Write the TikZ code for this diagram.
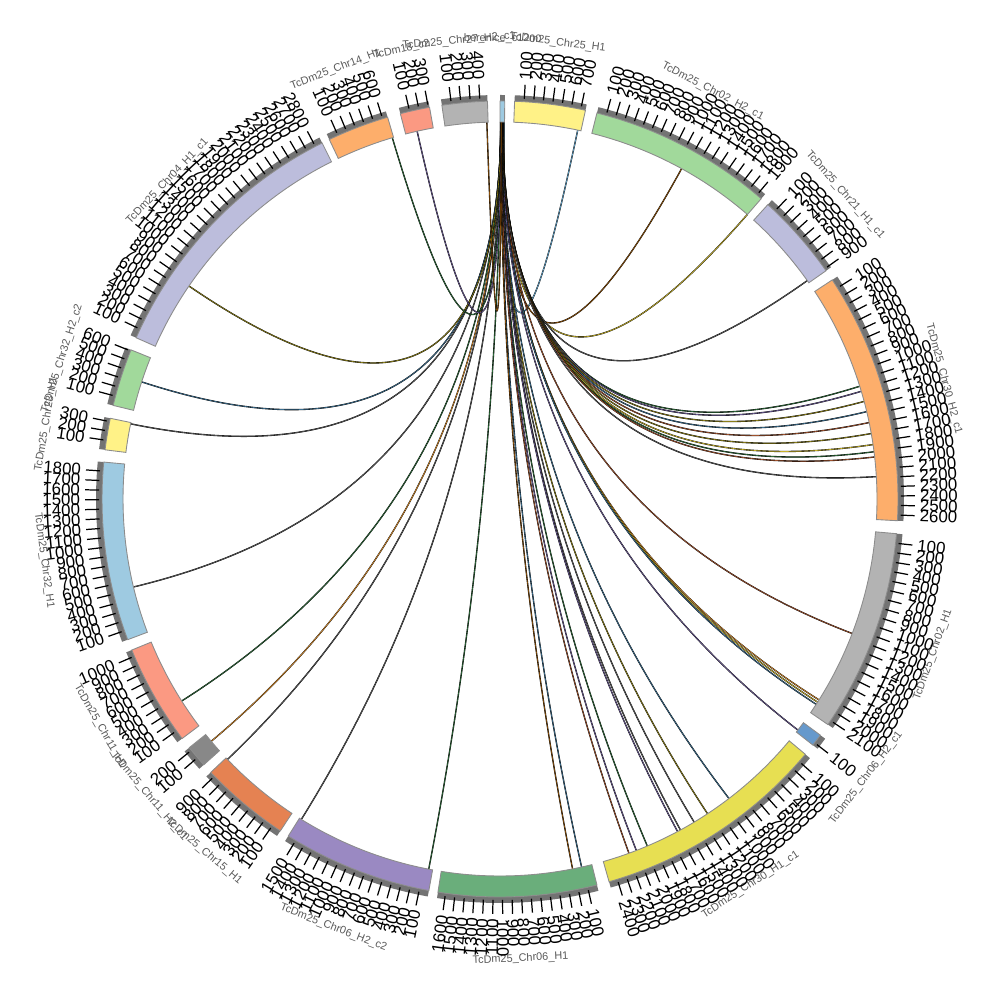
\documentclass[tikz,border=0pt]{standalone}
\usepackage{fontspec}
\setmainfont{Liberation Sans}
\usetikzlibrary{calc}
\definecolor{tinyblue}{HTML}{9ECAE1}
\definecolor{pyel}{HTML}{FFF287}
\definecolor{pgrn}{HTML}{A1D99B}
\definecolor{plav}{HTML}{BCBDDC}
\definecolor{porg}{HTML}{FDAE6B}
\definecolor{pgry}{HTML}{B3B3B3}
\definecolor{sblu}{HTML}{6699CC}
\definecolor{ochre}{HTML}{E7DF52}
\definecolor{dgrn}{HTML}{6AAE7B}
\definecolor{dprp}{HTML}{9A89C2}
\definecolor{dorg}{HTML}{E58252}
\definecolor{mgry}{HTML}{888888}
\definecolor{psal}{HTML}{FB9982}
\definecolor{trackgray}{HTML}{737373}
\definecolor{lsky}{HTML}{6BAED6}
\definecolor{lbrown}{HTML}{8C510A}
\definecolor{lyellow}{HTML}{C9B32A}
\definecolor{lgray}{HTML}{5B5B5B}
\definecolor{lgreen}{HTML}{2D6A3A}
\definecolor{lpurple}{HTML}{6B5B95}
\definecolor{lolive}{HTML}{8C801A}
\definecolor{lblue}{HTML}{3B6E8F}
\definecolor{lred}{HTML}{A0522D}
\definecolor{lorange}{HTML}{D98C2B}

\begin{document}
\begin{tikzpicture}[
  sector/.style={draw=gray!90, line width=0.25pt},
  track/.style={fill=trackgray},
  tickmark/.style={black, line width=0.35pt},
  ticklabel/.style={inner sep=0.4pt, font=\fontsize{4.8}{5}\selectfont},
  namelabel/.style={inner sep=0pt, text=black!65, font=\fontsize{3.1}{3.5}\selectfont},
  chordlink/.style={draw=black, line width=0.1pt, double distance=0.18pt}]
\useasboundingbox (-5,-5.01) rectangle (5,4.99);
\coordinate (O) at (0,0);

% links from the small sector at the top
\foreach \a/\b/\c [count=\j] in {
  0.62/11.9/lsky, 0.56/28.8/lbrown, 0.52/41.0/lyellow, 0.48/54.6/lgray,
  0.44/72.6/lgreen, 0.42/73.4/lpurple, 0.40/75.0/lolive, 0.38/76.6/lblue,
  0.36/78.3/lred, 0.34/80.0/lolive, 0.32/81.7/lyellow, 0.30/82.8/lgreen,
  0.28/83.6/lred, 0.26/86.6/lgray, 0.25/110.9/lred, 0.24/122.2/lorange,
  0.23/122.6/lyellow, 0.22/123.0/lblue, 0.21/127.8/lpurple, 0.20/142.6/lblue,
  0.19/146.6/lolive, 0.18/149.0/lgray, 0.17/151.4/lgray, 0.16/151.9/lpurple,
  0.15/157.0/lgreen, 0.14/158.8/lpurple, 0.13/160.0/lred, 0.12/167.5/lblue,
  0.11/168.9/lbrown, 0.10/190.9/lgreen, 0.10/211.8/lgray, 0.11/226.3/lgray,
  0.12/230.0/lorange, 0.13/237.6/lgreen, 0.14/256.5/lgray, 0.15/281.5/lgray,
  0.16/288.1/lblue, 0.17/304.4/lolive, 0.18/343.4/lgreen, 0.19/347.3/lpurple,
  0.20/358.0/lbrown}{
  \coordinate (ls\j) at ({90-\a}:3.77);
  \coordinate (lt\j) at ({90-\b}:3.77);
  \draw[chordlink, double=\c] (ls\j) .. controls ($(ls\j)!0.667!(O)$) and ($(lt\j)!0.667!(O)$) .. (lt\j);
}

% sectors: start (deg clockwise from top) / length / colour / name
\foreach \s/\l/\c/\n [count=\i] in {
  0.0/50/tinyblue/{berenice\_c1200},
  2.1/750/pyel/{TcDm25\_Chr25\_H1},
  14.1/1960/pgrn/{TcDm25\_Chr02\_H2\_c1},
  42.3/925/plav/{TcDm25\_Chr21\_H1\_c1},
  56.6/2660/porg/{TcDm25\_Chr30\_H2\_c1},
  95.0/2150/pgry/{TcDm25\_Chr02\_H1},
  126.4/130/sblu/{TcDm25\_Chr06\_H2\_c1},
  129.9/2490/ochre/{TcDm25\_Chr30\_H1\_c1},
  165.9/1680/dgrn/{TcDm25\_Chr06\_H1},
  190.3/1590/dprp/{TcDm25\_Chr06\_H2\_c2},
  213.5/955/dorg/{TcDm25\_Chr15\_H1},
  228.1/235/mgry/{TcDm25\_Chr11\_H2\_c1},
  233.0/1070/psal/{TcDm25\_Chr11\_H1},
  249.3/1895/tinyblue/{TcDm25\_Chr32\_H1},
  277.1/335/pyel/{TcDm25\_Chr23\_H1},
  283.6/612/pgrn/{TcDm25\_Chr32\_H2\_c2},
  293.9/2880/plav/{TcDm25\_Chr04\_H1\_c1},
  334.6/655/porg/{TcDm25\_Chr14\_H1},
  345.5/313/psal/{TcDm18\_c2},
  351.6/480/pgry/{TcDm25\_Chr27\_H2\_c1}}{
  \pgfmathsetmacro\e{\s+\l*0.01373}
  \pgfmathsetmacro\ta{90-\s}
  \pgfmathsetmacro\tb{90-\e}
  \fill[track] (\ta:3.98) arc[start angle=\ta, end angle=\tb, radius=3.98] -- (\tb:4.04) arc[start angle=\tb, end angle=\ta, radius=4.04] -- cycle;
  \filldraw[sector, fill=\c] (\ta:3.77) arc[start angle=\ta, end angle=\tb, radius=3.77] -- (\tb:3.98) arc[start angle=\tb, end angle=\ta, radius=3.98] -- cycle;
  % sector name
  \pgfmathsetmacro\m{(\s+\e)/2}
  \pgfmathsetmacro\rot{(\m<90)||(\m>270) ? -\m : 180-\m}
  \node[namelabel, rotate=\rot] (n\i) at ({90-\m}:4.6) {\n};
  % ticks every 100
  \pgfmathtruncatemacro\nt{\l/100}
  \ifnum\nt>0
  \foreach \k in {1,...,\nt}{
    \pgfmathsetmacro\tk{\s+\k*100*0.01373}
    \pgfmathsetmacro\tt{90-\tk}
    \pgfmathtruncatemacro\lab{\k*100}
    \draw[tickmark] (\tt:4.01) -- (\tt:4.15);
    \ifdim\tk pt<180pt
      \node[ticklabel, anchor=west, rotate=\tt] (t\i-\k) at (\tt:4.18) {\lab};
    \else
      \node[ticklabel, anchor=east, rotate=\tt+180] (t\i-\k) at (\tt:4.18) {\lab};
    \fi
  }
  \fi
}
\end{tikzpicture}
\end{document}
